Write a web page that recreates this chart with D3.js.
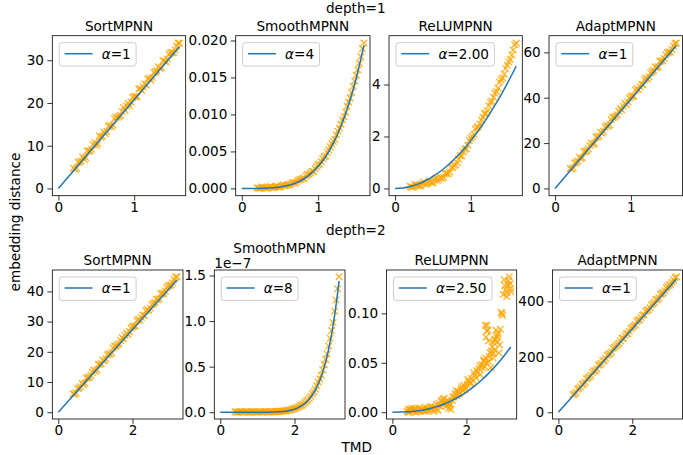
<!DOCTYPE html>
<html><head><meta charset="utf-8">
<script src="https://cdn.jsdelivr.net/npm/d3@7"></script>
<style>body{margin:0;background:#fff} svg text{font-family:"DejaVu Sans",sans-serif;fill:#000}</style>
</head><body>
<svg id="c" width="683" height="455"></svg>
<script>
// ---------------- data ----------------
const models = ["SortMPNN","SmoothMPNN","ReLUMPNN","AdaptMPNN"];
const depthTitles = ["depth=1","depth=2"];
const alphaLabels1 = ["1","4","2.00","1"];
const alphaLabels2 = ["1","8","2.50","1"];
const xLabel = "TMD";
const yLabel = "embedding distance";

// TMD values of the graph pairs (two interleaved samples)
const tmd1 = [0.20,0.24,0.28,0.32,0.36,0.40,0.44,0.48,0.52,0.56,0.60,0.64,0.68,0.72,0.76,0.80,0.84,0.88,0.92,0.96,1.00,1.04,1.08,1.12,1.16,1.20,1.24,1.28,1.32,1.36,1.40,1.44,1.48,1.52,1.56,1.60];
const tmd1b = [0.22,0.26,0.30,0.34,0.38,0.42,0.46,0.50,0.54,0.58,0.62,0.66,0.70,0.74,0.78,0.82,0.86,0.90,0.94,0.98,1.02,1.06,1.10,1.14,1.18,1.22,1.26,1.30,1.34,1.38,1.42,1.46,1.50,1.54,1.58];
const tmd2 = [0.40,0.48,0.56,0.64,0.72,0.80,0.88,0.96,1.04,1.12,1.20,1.28,1.36,1.44,1.52,1.60,1.68,1.76,1.84,1.92,2.00,2.08,2.16,2.24,2.32,2.40,2.48,2.56,2.64,2.72,2.80,2.88,2.96,3.04,3.12,3.20];
const tmd2b = [0.44,0.52,0.60,0.68,0.76,0.84,0.92,1.00,1.08,1.16,1.24,1.32,1.40,1.48,1.56,1.64,1.72,1.80,1.88,1.96,2.04,2.12,2.20,2.28,2.36,2.44,2.52,2.60,2.68,2.76,2.84,2.92,3.00,3.08,3.16];

// depth = 1
const sort1Y = [4.72,4.76,6.11,7.35,7.20,8.74,9.18,10.73,10.47,12.02,13.16,13.30,14.75,14.79,16.64,16.88,18.02,18.27,19.91,20.16,21.50,21.44,23.39,23.73,24.18,25.82,25.96,27.31,28.45,28.30,29.74,30.28,31.73,31.77,33.32,33.96];
const sort1YB = [4.44,6.19,6.43,6.77,8.82,8.76,10.21,10.05,12.29,12.24,12.78,14.53,14.37,16.31,16.66,17.10,18.95,19.29,19.33,21.28,21.52,23.27,22.91,24.45,25.60,25.34,27.09,27.53,28.07,29.92,29.66,31.41,31.85,32.39,34.04];
const sort1LineX = [0,1.6];
const sort1LineY = [0,33.2];

const smooth1Y = [0.00010,0.00004,0.00012,0.00006,0.00016,0.00010,0.00022,0.00019,0.00034,0.00036,0.00052,0.00058,0.00078,0.00090,0.00118,0.00134,0.00168,0.00192,0.00232,0.00266,0.00318,0.00364,0.00426,0.00484,0.00562,0.00634,0.00726,0.00814,0.00928,0.01034,0.01168,0.01296,0.01452,0.01604,0.01782,0.01966];
const smooth1YB = [0.00003,0.00021,0.00010,0.00002,0.00028,0.00013,0.00029,0.00015,0.00050,0.00040,0.00044,0.00075,0.00070,0.00110,0.00121,0.00138,0.00186,0.00209,0.00230,0.00295,0.00331,0.00403,0.00439,0.00521,0.00602,0.00663,0.00772,0.00865,0.00969,0.01110,0.01220,0.01381,0.01529,0.01691,0.01890];
const smooth1LineX = [0,0.1,0.2,0.3,0.4,0.5,0.6,0.7,0.8,0.9,1.0,1.1,1.2,1.3,1.4,1.5,1.6];
const smooth1LineY = [0,0.0000003,0.0000047,0.0000239,0.0000755,0.000184,0.000382,0.000708,0.001208,0.001935,0.00295,0.004319,0.006117,0.008425,0.011333,0.014934,0.019333];

const relu1Y = [0.08,0.05,0.12,0.09,0.18,0.15,0.24,0.22,0.32,0.30,0.42,0.43,0.58,0.63,0.82,0.91,1.13,1.25,1.50,1.66,1.93,2.08,2.34,2.48,2.74,2.90,3.18,3.36,3.66,3.86,4.18,4.40,4.74,4.97,5.33,5.60];
const relu1YB = [0.05,0.16,0.12,0.10,0.25,0.19,0.28,0.22,0.40,0.36,0.39,0.56,0.56,0.79,0.88,0.99,1.26,1.40,1.53,1.85,2.00,2.29,2.37,2.64,2.88,2.99,3.31,3.51,3.73,4.09,4.25,4.62,4.87,5.14,5.53];
const relu1LineX = [0,0.1,0.2,0.3,0.4,0.5,0.6,0.7,0.8,0.9,1.0,1.1,1.2,1.3,1.4,1.5,1.6];
const relu1LineY = [0,0.018,0.074,0.166,0.294,0.46,0.662,0.902,1.178,1.49,1.84,2.226,2.65,3.11,3.606,4.14,4.71];

const adapt1Y = [8.78,8.98,11.47,13.77,13.56,16.46,17.36,20.05,19.85,22.74,24.74,25.14,27.73,28.03,31.32,31.92,34.02,34.61,37.51,38.10,40.50,40.70,43.99,44.89,45.78,48.68,49.18,51.57,53.67,53.66,56.16,57.26,59.85,60.15,62.84,64.14];
const adapt1YB = [8.54,11.21,12.09,13.09,16.12,16.64,18.95,19.35,22.63,23.14,24.38,27.05,27.45,30.37,31.36,32.48,35.27,36.27,36.91,39.82,40.70,43.37,43.53,45.97,47.92,48.20,50.87,51.99,53.23,56.02,56.30,58.97,60.09,61.33,63.88];
const adapt1LineX = [0,1.6];
const adapt1LineY = [0,63.0];

// depth = 2
const sort2Y = [6.08,6.40,8.01,9.53,9.64,11.46,12.18,13.99,14.01,15.82,17.24,17.66,19.37,19.69,21.80,22.32,23.74,24.25,26.17,26.68,28.30,28.52,30.73,31.35,32.06,33.98,34.40,36.01,37.43,37.54,39.26,40.08,41.79,42.11,43.92,44.84];
const sort2YB = [5.96,7.88,8.46,9.13,11.32,11.63,13.28,13.50,15.88,16.18,17.03,18.95,19.17,21.28,21.94,22.70,24.71,25.38,25.78,27.88,28.46,30.38,30.42,32.17,33.55,33.68,35.60,36.36,37.21,39.22,39.35,41.27,42.03,42.88,44.71];
const sort2LineX = [0,3.2];
const sort2LineY = [0,43.8];

const smooth2Y = [0.004e-7,0.001e-7,0.005e-7,0.002e-7,0.006e-7,0.001e-7,0.004e-7,0.002e-7,0.006e-7,0.002e-7,0.005e-7,0.003e-7,0.007e-7,0.004e-7,0.008e-7,0.009e-7,0.014e-7,0.015e-7,0.024e-7,0.029e-7,0.042e-7,0.052e-7,0.072e-7,0.090e-7,0.122e-7,0.152e-7,0.203e-7,0.252e-7,0.330e-7,0.405e-7,0.522e-7,0.638e-7,0.810e-7,0.985e-7,1.232e-7,1.486e-7];
const smooth2YB = [0.003e-7,0.006e-7,0.002e-7,0.005e-7,0.001e-7,0.004e-7,0.006e-7,0.002e-7,0.005e-7,0.003e-7,0.006e-7,0.002e-7,0.006e-7,0.005e-7,0.009e-7,0.010e-7,0.015e-7,0.019e-7,0.024e-7,0.035e-7,0.044e-7,0.061e-7,0.078e-7,0.106e-7,0.134e-7,0.176e-7,0.225e-7,0.291e-7,0.366e-7,0.465e-7,0.580e-7,0.726e-7,0.895e-7,1.108e-7,1.355e-7];
const smooth2LineX = [0,0.4,0.8,1.2,1.6,1.8,1.9,2.0,2.1,2.2,2.3,2.4,2.5,2.6,2.7,2.8,2.9,3.0,3.1,3.2];
const smooth2LineY = [0,0,0.00002e-7,0.00056e-7,0.00563e-7,0.01444e-7,0.02225e-7,0.03354e-7,0.04955e-7,0.07189e-7,0.10259e-7,0.14420e-7,0.19989e-7,0.27356e-7,0.36998e-7,0.49493e-7,0.65532e-7,0.85949e-7,1.11729e-7,1.44036e-7];

const relu2X = [0.40,0.43,0.46,0.50,0.53,0.57,0.60,0.64,0.68,0.72,0.76,0.80,0.84,0.88,0.92,0.96,
  1.00,1.04,1.08,1.12,1.16,1.20,1.24,1.28,
  1.32,1.36,1.38,1.42,1.45,1.48,1.52,1.55,1.58,
  1.62,1.66,1.70,1.74,1.78,1.82,1.86,1.90,1.94,1.98,
  2.02,2.06,2.10,2.14,2.18,2.22,2.26,2.30,2.34,2.38,
  2.42,2.46,2.50,2.54,2.56,2.58,2.62,2.64,2.66,2.70,
  2.72,2.74,2.78,2.82,2.86,2.88,2.90,2.94,2.98,3.00,
  3.02,3.06,3.09,3.12,3.16,3.18,3.20,
  2.51,2.55,2.53,2.60,2.80,2.84,2.76,2.72];
const relu2Y = [0.001,0.003,0.000,0.002,0.004,0.001,0.003,0.000,0.002,0.004,0.001,0.003,0.002,0.005,0.001,0.004,
  0.002,0.006,0.003,0.001,0.005,0.008,0.002,0.006,
  0.011,0.008,0.013,0.010,0.006,0.012,0.004,0.009,0.003,
  0.012,0.016,0.019,0.017,0.021,0.020,0.024,0.022,0.027,0.025,
  0.028,0.031,0.029,0.034,0.032,0.037,0.035,0.040,0.044,0.038,
  0.048,0.052,0.046,0.050,0.088,0.083,0.056,0.060,0.045,0.066,
  0.055,0.070,0.073,0.076,0.080,0.060,0.068,0.101,0.098,0.119,
  0.134,0.124,0.117,0.129,0.137,0.130,0.122,
  0.088,0.082,0.076,0.072,0.083,0.078,0.063,0.059];
const relu2XB = [0.42,0.48,0.55,0.62,0.70,0.78,0.86,0.94,1.02,1.10,1.18,1.26,1.34,1.40,1.44,1.50,1.56,1.64,1.72,1.80,1.88,1.96,2.04,2.12,2.20,2.28,2.36,2.44,2.48,2.52,2.60,2.68,2.76,2.84,2.92,2.96,3.04,3.10,3.14,3.19];
const relu2YB = [0.000,0.003,0.002,0.004,0.001,0.003,0.001,0.003,0.004,0.005,0.003,0.009,0.012,0.014,0.009,0.011,0.007,0.015,0.022,0.018,0.026,0.023,0.033,0.030,0.040,0.042,0.047,0.045,0.053,0.055,0.051,0.062,0.074,0.071,0.084,0.100,0.128,0.121,0.133,0.125];
const relu2LineX = [0,0.4,0.6,0.8,1.0,1.2,1.4,1.6,1.8,2.0,2.2,2.4,2.6,2.8,3.0,3.2];
const relu2LineY = [0,0.000365,0.001005,0.002062,0.003603,0.005683,0.008356,0.011667,0.015662,0.020382,0.025866,0.032151,0.039273,0.047266,0.056166,0.066];

const adapt2Y = [63.5,71.7,86.4,100.6,107.8,123.5,133.7,149.4,156.1,171.8,185.5,194.2,209.4,217.6,234.8,244.0,257.7,266.9,283.1,292.3,307.0,314.7,332.4,342.1,352.3,368.5,377.2,391.9,405.6,412.8,428.0,438.7,453.9,462.1,477.8,489.0];
const adapt2YB = [65.9,83.5,92.1,101.3,120.7,127.5,143.3,149.5,170.1,176.9,187.3,204.9,211.1,229.9,239.1,248.9,267.1,276.3,283.7,302.5,311.1,328.7,333.7,350.1,364.1,369.7,387.3,397.1,407.5,425.7,431.3,448.9,458.7,469.1,486.1];
const adapt2LineX = [0,3.2];
const adapt2LineY = [0,481];

// ticks
const xTicks1 = [0,1];
const xTicks2 = [0,2];
const sort1YTicks = [0,10,20,30];
const smooth1YTicks = [0,0.005,0.010,0.015,0.020];
const relu1YTicks = [0,2,4];
const adapt1YTicks = [0,20,40,60];
const sort2YTicks = [0,10,20,30,40];
const smooth2YTicks = [0,0.5e-7,1.0e-7,1.5e-7];
const relu2YTicks = [0,0.05,0.10];
const adapt2YTicks = [0,200,400];
const smooth2Offset = "1e\u22127";

// ---------------- layout / style ----------------
const FS = "13.6px";
const BLUE = "#1f77b4", ORANGE = "#ffa500";
const rowsY = [[35.7,195.7],[270,419]];
const colsX = [[[52.3,185.7],[235.7,370],[389,522.3],[549,682.5]],
               [[52.3,183],[214.3,345],[386.5,516.7],[552.5,682.5]]];
const titleBase = [30.5, 265];

const fInt = d3.format("d");
const panels = [
  {r:0,c:0,sx:tmd1.concat(tmd1b),sy:sort1Y.concat(sort1YB),lx:sort1LineX,ly:sort1LineY,xt:xTicks1,yt:sort1YTicks,fmt:fInt,a:alphaLabels1[0]},
  {r:0,c:1,sx:tmd1.concat(tmd1b),sy:smooth1Y.concat(smooth1YB),lx:smooth1LineX,ly:smooth1LineY,xt:xTicks1,yt:smooth1YTicks,fmt:d3.format(".3f"),a:alphaLabels1[1]},
  {r:0,c:2,sx:tmd1.concat(tmd1b),sy:relu1Y.concat(relu1YB),lx:relu1LineX,ly:relu1LineY,xt:xTicks1,yt:relu1YTicks,fmt:fInt,a:alphaLabels1[2]},
  {r:0,c:3,sx:tmd1.concat(tmd1b),sy:adapt1Y.concat(adapt1YB),lx:adapt1LineX,ly:adapt1LineY,xt:xTicks1,yt:adapt1YTicks,fmt:fInt,a:alphaLabels1[3]},
  {r:1,c:0,sx:tmd2.concat(tmd2b),sy:sort2Y.concat(sort2YB),lx:sort2LineX,ly:sort2LineY,xt:xTicks2,yt:sort2YTicks,fmt:fInt,a:alphaLabels2[0]},
  {r:1,c:1,sx:tmd2.concat(tmd2b),sy:smooth2Y.concat(smooth2YB),lx:smooth2LineX,ly:smooth2LineY,xt:xTicks2,yt:smooth2YTicks,fmt:v=>(v/1e-7).toFixed(1),a:alphaLabels2[1],offset:smooth2Offset},
  {r:1,c:2,sx:relu2X.concat(relu2XB),sy:relu2Y.concat(relu2YB),lx:relu2LineX,ly:relu2LineY,xt:xTicks2,yt:relu2YTicks,fmt:d3.format(".2f"),a:alphaLabels2[2]},
  {r:1,c:3,sx:tmd2.concat(tmd2b),sy:adapt2Y.concat(adapt2YB),lx:adapt2LineX,ly:adapt2LineY,xt:xTicks2,yt:adapt2YTicks,fmt:fInt,a:alphaLabels2[3]}
];

const svg = d3.select("#c");
function padded(v){const [a,b]=d3.extent(v);const r=b-a;return [a-0.05*r,b+0.05*r];}
const R = 3.3;
const xMarker = `M${-R},${-R}L${R},${R}M${-R},${R}L${R},${-R}`;

panels.forEach(p=>{
  const [x0,x1] = colsX[p.r][p.c];
  const [y0,y1] = rowsY[p.r];
  const x = d3.scaleLinear().domain(padded(p.sx.concat(p.lx))).range([x0,x1]);
  const y = d3.scaleLinear().domain(padded(p.sy.concat(p.ly))).range([y1,y0]);
  const g = svg.append("g");

  g.append("g").selectAll("path").data(d3.zip(p.sx,p.sy)).join("path")
    .attr("d",xMarker)
    .attr("transform",d=>`translate(${x(d[0])},${y(d[1])})`)
    .attr("fill","none").attr("stroke",ORANGE).attr("stroke-width",1.4).attr("stroke-opacity",0.8);

  g.append("path").datum(d3.zip(p.lx,p.ly))
    .attr("d",d3.line().x(d=>x(d[0])).y(d=>y(d[1])).curve(d3.curveMonotoneX))
    .attr("fill","none").attr("stroke",BLUE).attr("stroke-width",1.5);

  g.append("rect").attr("x",x0).attr("y",y0).attr("width",x1-x0).attr("height",y1-y0)
    .attr("fill","none").attr("stroke","#000").attr("stroke-width",0.8);

  const ax = g.append("g").attr("transform",`translate(0,${y1})`)
    .call(d3.axisBottom(x).tickValues(p.xt).tickFormat(fInt).tickSize(4.9).tickPadding(1.6));
  const ay = g.append("g").attr("transform",`translate(${x0},0)`)
    .call(d3.axisLeft(y).tickValues(p.yt).tickFormat(p.fmt).tickSize(4.9).tickPadding(3.4));
  [ax,ay].forEach(a=>{
    a.select(".domain").remove();
    a.attr("font-family",null).attr("font-size",null);
    a.selectAll("line").attr("stroke","#000").attr("stroke-width",0.8);
    a.selectAll("text").style("font-size",FS).style("font-family","'DejaVu Sans',sans-serif");
  });

  const tb = (p.offset ? 253 : titleBase[p.r]);
  g.append("text").attr("x",(x0+x1)/2).attr("y",tb).attr("text-anchor","middle")
    .style("font-size",FS).text(models[p.c]);
  if(p.offset){
    g.append("text").attr("x",x0).attr("y",y0-2.3).style("font-size",FS).text(p.offset);
  }

  const lg = g.append("g").attr("transform",`translate(${x0+7},${y0+7})`);
  const box = lg.append("rect").attr("rx",2.5).attr("ry",2.5)
    .attr("fill","#fff").attr("fill-opacity",0.8).attr("stroke","#cccccc").attr("stroke-width",1);
  lg.append("line").attr("x1",5.3).attr("x2",33.3).attr("y1",11).attr("y2",11)
    .attr("stroke",BLUE).attr("stroke-width",1.5);
  const lt = lg.append("text").attr("x",42.4).attr("y",16.2).style("font-size",FS);
  lt.append("tspan").attr("font-style","italic").text("\u03b1");
  lt.append("tspan").text("="+p.a);
  const w = 42.4 + lt.node().getComputedTextLength() + 5.4;
  box.attr("width",w).attr("height",23.4);
});

svg.append("text").attr("x",355.8).attr("y",12.5).attr("text-anchor","middle").style("font-size",FS).text(depthTitles[0]);
svg.append("text").attr("x",355.8).attr("y",235).attr("text-anchor","middle").style("font-size",FS).text(depthTitles[1]);
svg.append("text").attr("x",356.7).attr("y",452).attr("text-anchor","middle").style("font-size",FS).text(xLabel);
svg.append("text").attr("transform","translate(19.5,222) rotate(-90)").attr("text-anchor","middle").style("font-size",FS).text(yLabel);
</script>
</body></html>
